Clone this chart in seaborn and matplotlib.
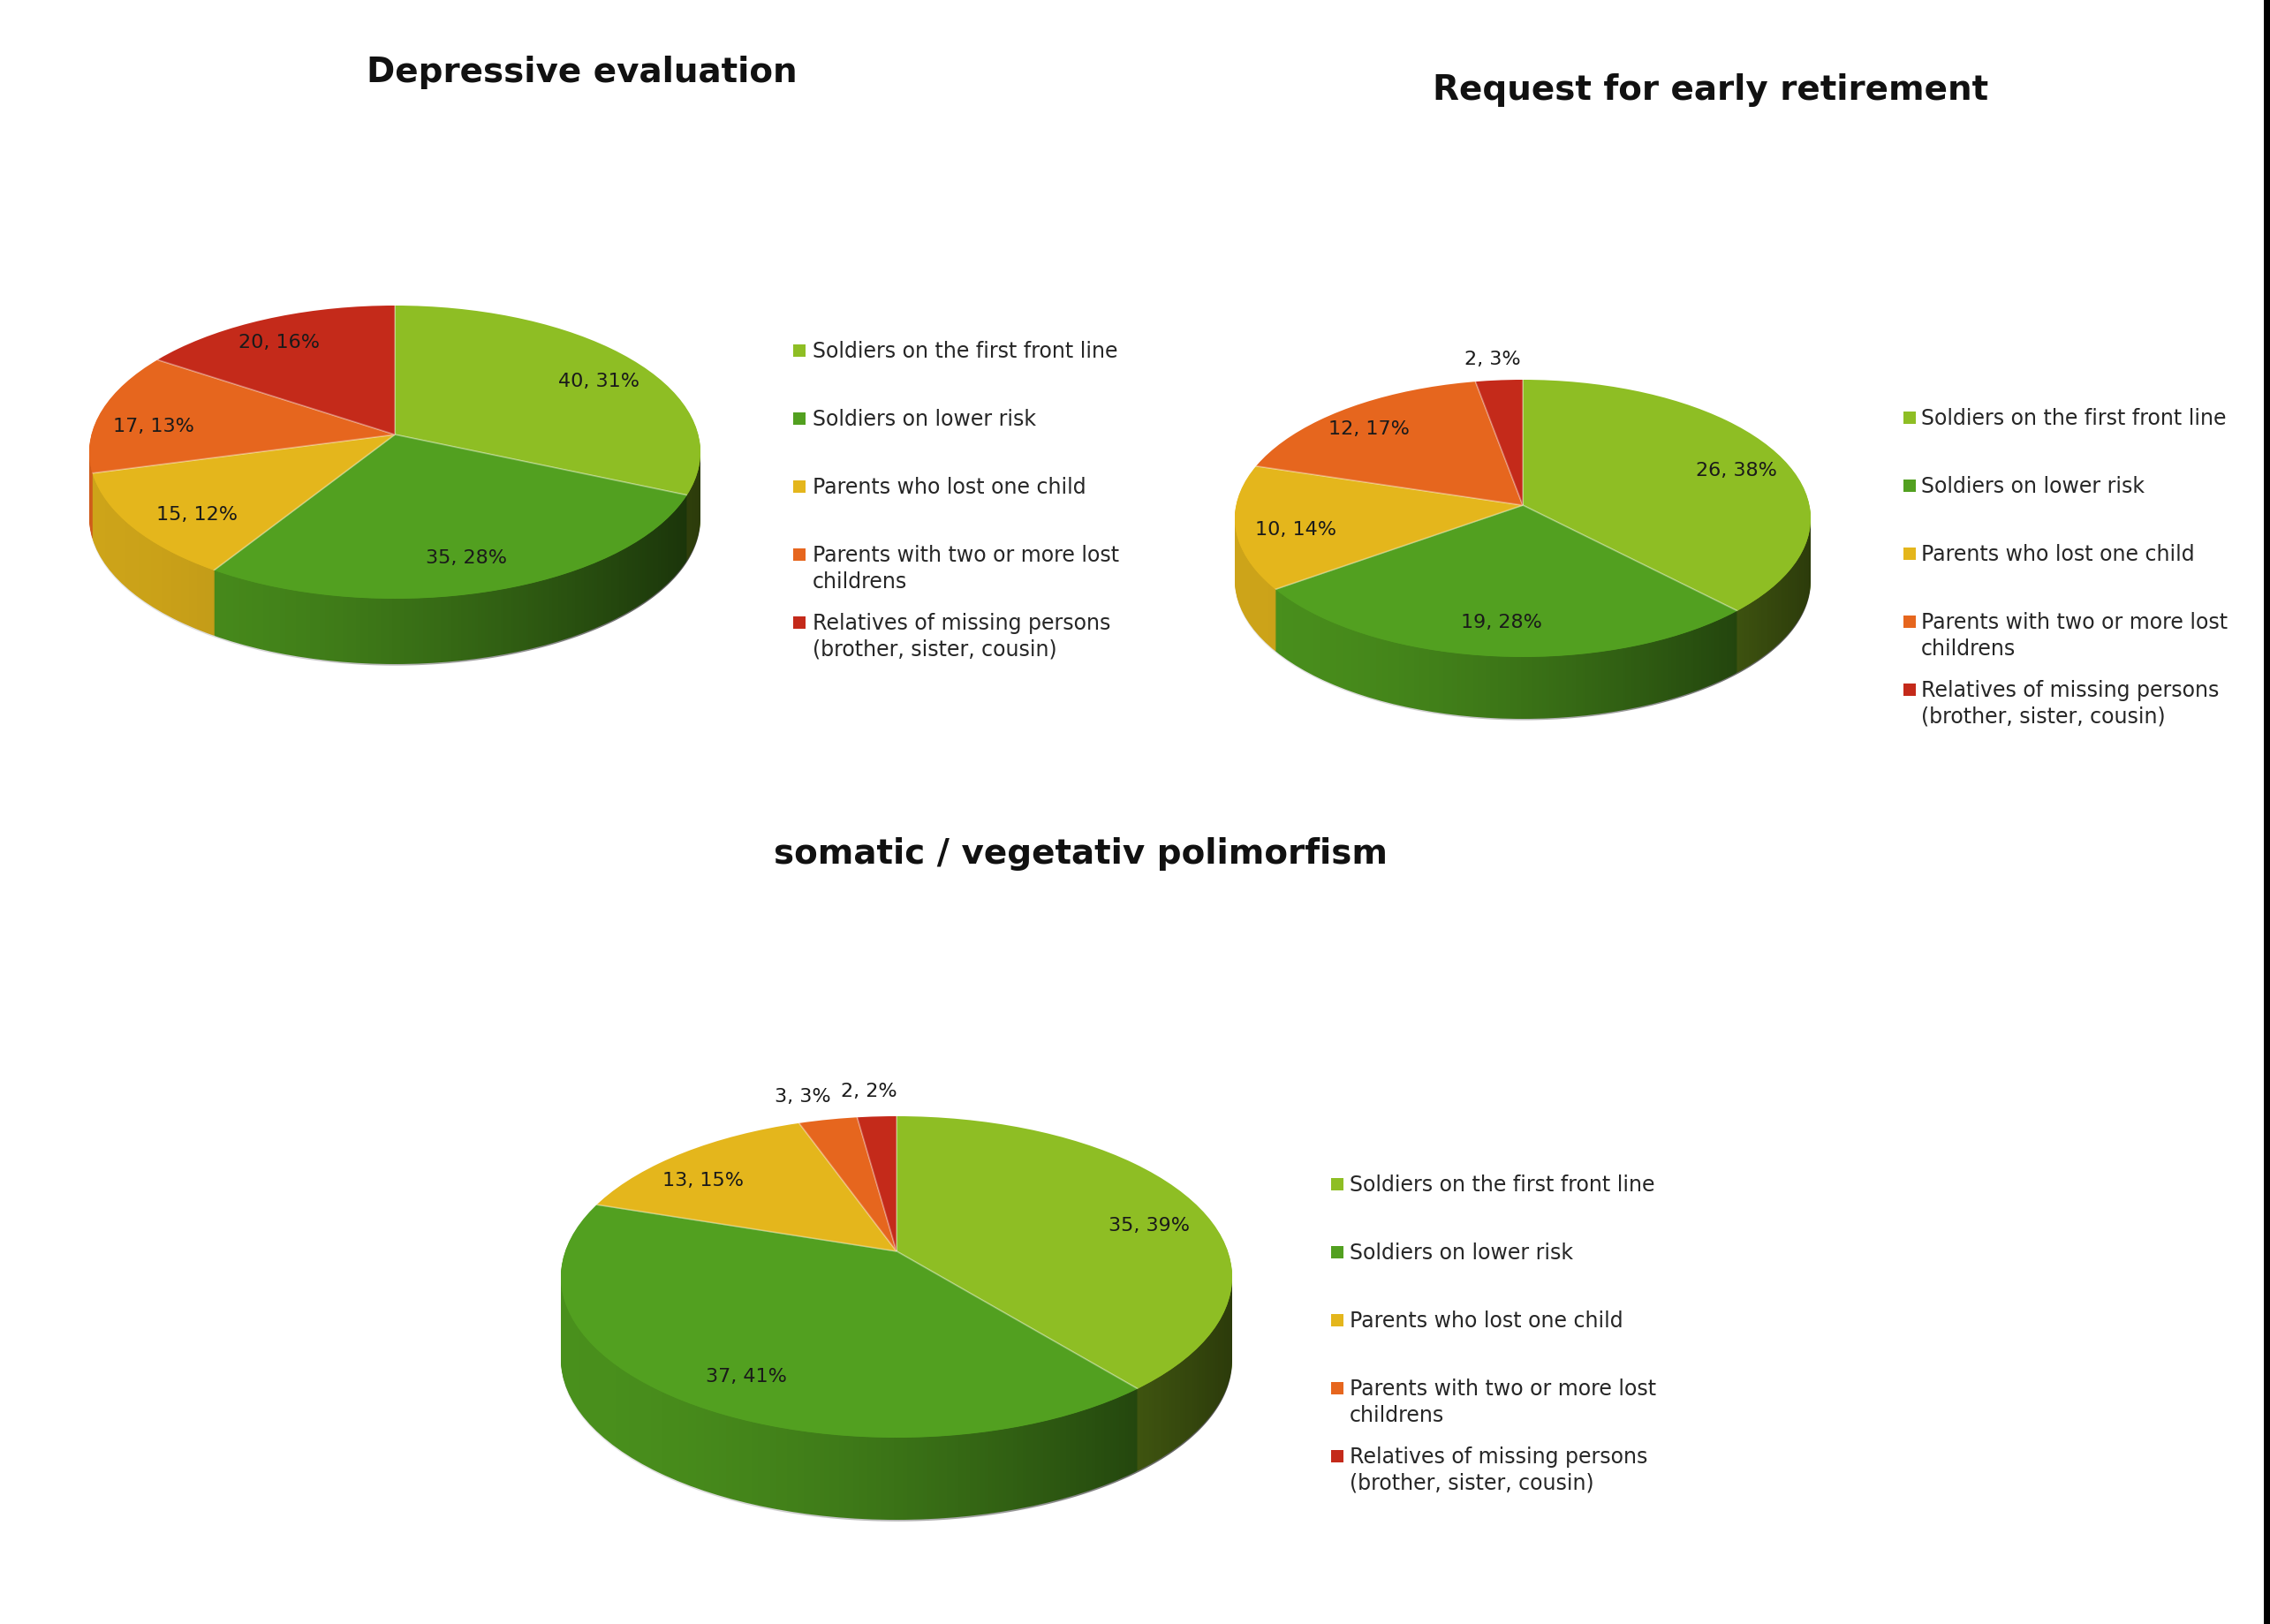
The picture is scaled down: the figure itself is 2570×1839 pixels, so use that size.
import numpy as np
import matplotlib
matplotlib.use("Agg")
import matplotlib.pyplot as plt
from matplotlib.patches import Polygon, Rectangle, Circle
import seaborn as sns

# ---------------- data ----------------
categories = [
    "Soldiers on the first front line",
    "Soldiers on lower risk",
    "Parents who lost one child",
    "Parents with two or more lost\nchildrens",
    "Relatives of missing persons\n(brother, sister, cousin)",
]
colors = ["#8EBE24", "#52A020", "#E4B61C", "#E6661E", "#C42A1A"]

titles = ["Depressive evaluation", "Request for early retirement",
          "somatic / vegetativ polimorfism"]

depressive_values = [40, 35, 15, 17, 20]
depressive_pcts = [31, 28, 12, 13, 16]

retirement_values = [26, 19, 10, 12, 2]
retirement_pcts = [38, 28, 14, 17, 3]

somatic_values = [35, 37, 13, 3, 2]
somatic_pcts = [39, 41, 15, 3, 2]

# ---------------- style ----------------
sns.set_theme(style="white")
plt.rcParams["font.family"] = ["DejaVu Sans"]

W, H = 2570, 1840
fig = plt.figure(figsize=(W / 100, H / 100), dpi=100)
fig.patch.set_facecolor("white")

TEXT = "#262626"


def fx(x):
    return x / W


def fy(y):
    return 1 - y / H


def clipped_pie(ax, values, apex, base_y, zorder, wp):
    """Pie whose apex sits slightly above the rim centre (perspective look),
    clipped to the unit rim centred at base_y."""
    wedges, _ = ax.pie(values, colors=colors, startangle=90, counterclock=False,
                       center=(0, base_y + apex), radius=1.0 + apex + 0.08,
                       wedgeprops=wp)
    rim = Circle((0, base_y), 1.0, transform=ax.transData, facecolor="none",
                 edgecolor="none")
    for w in wedges:
        w.set_clip_on(True)
        w.set_clip_path(rim)
        w.set_zorder(zorder)
    return wedges


def draw_pie(values, pcts, cx, cy, rx, ry, depth, apex):
    d = depth / ry
    m = 1.35
    top_px = cy - m * ry
    bot_px = cy + (m + d) * ry
    ax = fig.add_axes([fx(cx - m * rx), fy(bot_px), 2 * m * rx / W, (bot_px - top_px) / H])
    ax.set_facecolor("none")

    # side walls: stacked copies of the pie going downward
    n = max(int(depth), 2)
    for k in range(n, 0, -1):
        clipped_pie(ax, values, apex, -d * k / n, 1,
                    dict(linewidth=0, edgecolor="none", antialiased=True))

    # horizontal shading of the side band
    t = np.linspace(np.pi, 2 * np.pi, 300)
    band = np.concatenate([np.c_[np.cos(t), np.sin(t) + 0.002],
                           np.c_[np.cos(t[::-1]), np.sin(t[::-1]) - d - 0.01]])
    clip = Polygon(band, closed=True, transform=ax.transData,
                   facecolor="none", edgecolor="none")
    u = np.linspace(0, 1, 400)
    grad = np.zeros((1, 400, 4))
    grad[..., 3] = 0.10 + 0.60 * u ** 1.7
    im = ax.imshow(grad, extent=[-1.02, 1.02, -1 - d - 0.05, 0.1], aspect="auto",
                   zorder=3, interpolation="bilinear")
    im.set_clip_on(True)
    im.set_clip_path(clip)

    # top surface
    wedges = clipped_pie(ax, values, apex, 0.0, 4,
                         dict(linewidth=1.2, edgecolor=(1, 1, 1, 0.3)))

    # data labels
    for w, v, p in zip(wedges, values, pcts):
        th = np.deg2rad((w.theta1 + w.theta2) / 2)
        if p < 5:
            lx, ly = 1.16 * np.cos(th), 1.16 * np.sin(th)
        else:
            lx, ly = 0.8 * np.cos(th), 0.8 * np.sin(th) + 0.05
        ax.text(lx, ly, f"{v}, {p}%", ha="center", va="center",
                fontsize=16, color="#1a1a1a", zorder=6)

    ax.set_aspect("auto")
    ax.set_xlim(-m, m)
    ax.set_ylim(-m - d, m)
    ax.axis("off")
    return ax


def draw_legend(x_marker, x_text, y0, step=77, line=30, size=14):
    for i, (lab, c) in enumerate(zip(categories, colors)):
        y = y0 + i * step
        fig.patches.append(Rectangle((fx(x_marker - size / 2), fy(y + size / 2)),
                                     size / W, size / H, transform=fig.transFigure,
                                     facecolor=c, edgecolor="none"))
        for j, part in enumerate(lab.split("\n")):
            fig.text(fx(x_text), fy(y + j * line), part, ha="left", va="center",
                     fontsize=17, color=TEXT)


# pie 1
draw_pie(depressive_values, depressive_pcts, cx=447, cy=513, rx=346, ry=166,
         depth=74, apex=0.12)
fig.text(fx(659), fy(82), titles[0], ha="center", va="center",
         fontsize=28, fontweight="bold", color="#111111")
draw_legend(905, 920, 398)

# pie 2
draw_pie(retirement_values, retirement_pcts, cx=1724, cy=588, rx=326, ry=157,
         depth=70, apex=0.095)
fig.text(fx(1937), fy(102), titles[1], ha="center", va="center",
         fontsize=28, fontweight="bold", color="#111111")
draw_legend(2162, 2175, 474)

# pie 3
draw_pie(somatic_values, somatic_pcts, cx=1015, cy=1447, rx=380, ry=182,
         depth=93, apex=0.16)
fig.text(fx(1224), fy(967), titles[2], ha="center", va="center",
         fontsize=28, fontweight="bold", color="#111111")
draw_legend(1514, 1528, 1342)

# dark strip at right edge of the original picture
fig.patches.append(Rectangle((fx(2563), 0), 7 / W, 1, transform=fig.transFigure,
                             facecolor="black", edgecolor="none"))

fig.savefig("out.png", dpi=100, facecolor="white")
